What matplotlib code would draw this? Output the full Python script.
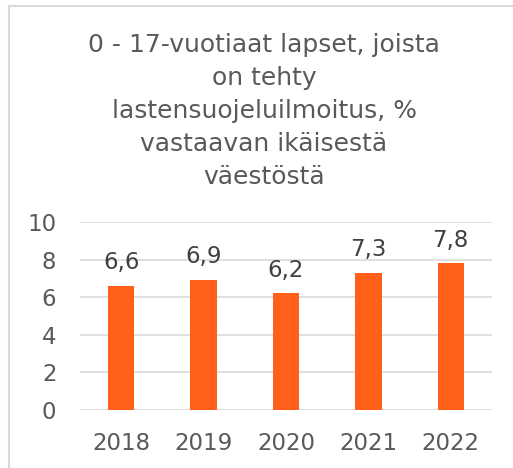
import numpy as np
import matplotlib.pyplot as plt
from matplotlib.patches import Rectangle

years = ["2018", "2019", "2020", "2021", "2022"]
values = [6.6, 6.9, 6.2, 7.3, 7.8]
labels = ["6,6", "6,9", "6,2", "7,3", "7,8"]
title = ("0 - 17-vuotiaat lapset, joista\non tehty\n"
         "lastensuojeluilmoitus, %\nvastaavan ikäisestä\nväestöstä")

bar_col = "#FF5F19"
txt_col = "#595959"

fig = plt.figure(figsize=(5.13, 4.68), dpi=100)
fig.patches.append(Rectangle((9 / 513, -0.1), 1.2, 1 - 6 / 468 + 0.1,
                             transform=fig.transFigure, fill=False,
                             edgecolor="#D9D9D9", linewidth=1.5))

ax = fig.add_axes([80 / 513, 1 - 410 / 468, 412 / 513, 188 / 468])
x = np.arange(len(years))
ax.bar(x, values, width=0.32, color=bar_col, zorder=3)
for xi, v, lab in zip(x, values, labels):
    ax.annotate(lab, (xi, v), xytext=(0, 8.5), textcoords="offset points",
                ha="center", va="bottom", fontsize=16.5, color="#404040")

ax.set_xlim(-0.5, 4.5)
ax.set_ylim(0, 10)
ax.set_yticks(np.arange(0, 11, 2))
ax.set_xticks(x)
ax.set_xticklabels(years)
ax.grid(axis="y", color="#D9D9D9", linewidth=1.2, zorder=0)
for s in ax.spines.values():
    s.set_visible(False)
ax.tick_params(axis="both", length=0, labelsize=16.5, labelcolor=txt_col)
ax.tick_params(axis="y", pad=17)
ax.tick_params(axis="x", pad=16)

fig.text(264 / 513, 1 - 33 / 468, title, ha="center", va="top",
         fontsize=18, color=txt_col, linespacing=1.47)

fig.savefig("out.png", dpi=100)
